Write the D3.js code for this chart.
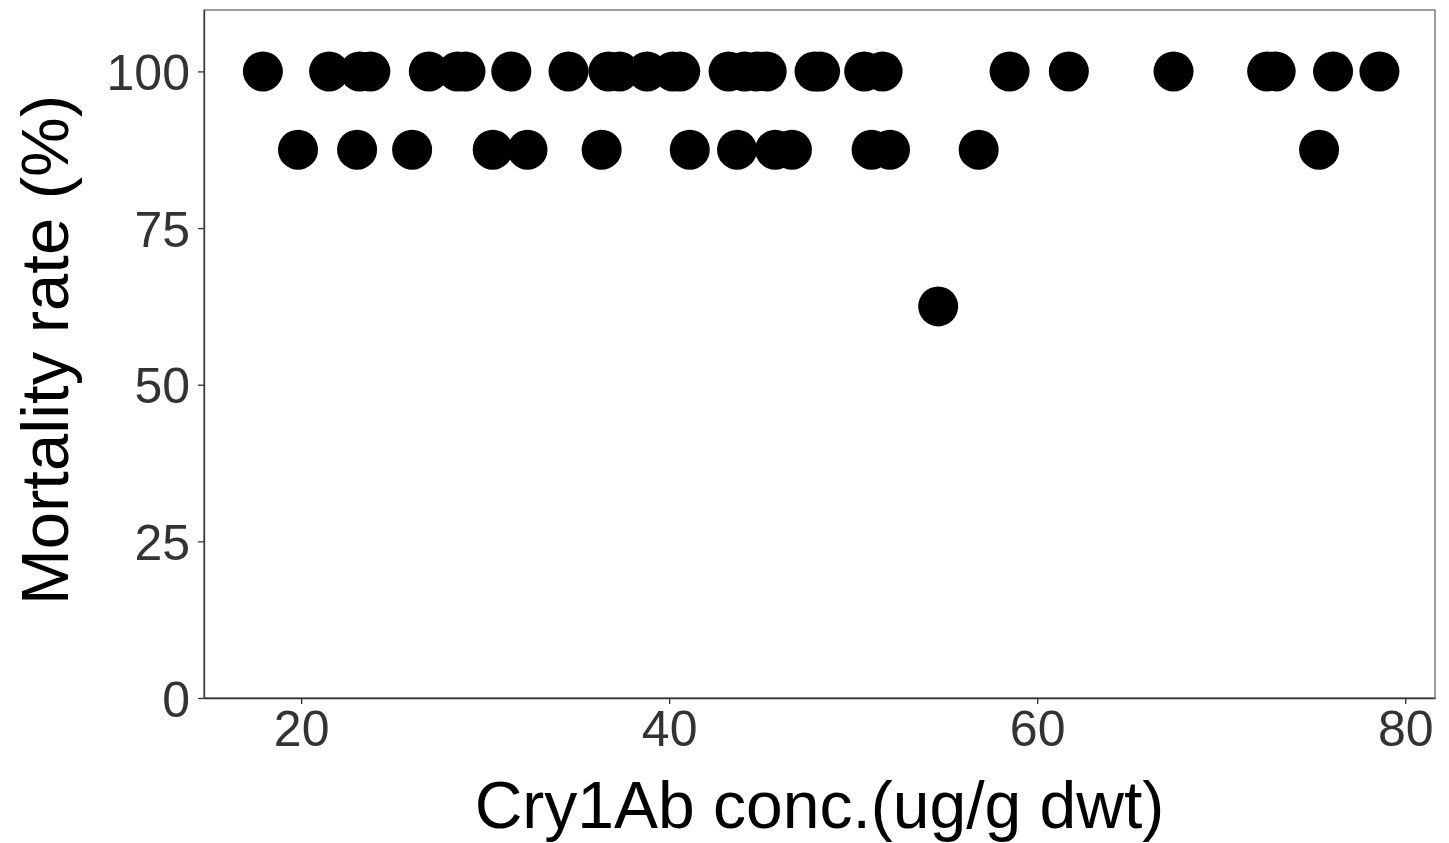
<!DOCTYPE html>
<html><head><meta charset="utf-8">
<script src="https://cdn.jsdelivr.net/npm/d3@7"></script>
<style>html,body{margin:0;padding:0;background:#fff;}svg{display:block;}</style>
</head><body>
<svg id="chart" width="1449" height="843"></svg>
<script>
// Data: Cry1Ab concentration (ug/g dwt) vs mortality rate (%)
const concAt100 = [17.92, 21.52, 23.18, 23.76, 26.94, 28.5, 28.93, 31.42, 34.53, 36.7, 37.3, 38.8, 40.2, 40.6, 43.23, 44.1, 44.77, 45.3, 47.9, 48.2, 50.6, 51.6, 58.5, 61.72, 67.41, 72.5, 72.96, 76.08, 78.6];
const concAt875 = [19.83, 23.04, 26.03, 30.41, 32.3, 36.33, 41.12, 43.69, 45.76, 46.67, 51.0, 52.0, 56.82, 75.32];
const concAt625 = [54.62];
const mortalityLevels = [100, 87.5, 62.5];
const xTicks = [20, 40, 60, 80];
const yTicks = [0, 25, 50, 75, 100];
const xTitle = "Cry1Ab conc.(ug/g dwt)";
const yTitle = "Mortality rate (%)";

const points = [];
[concAt100, concAt875, concAt625].forEach((arr, i) => arr.forEach(c => points.push({x: c, y: mortalityLevels[i]})));

const svg = d3.select("#chart");
const m = {left: 204, right: 1435, top: 10, bottom: 698};
const x = d3.scaleLinear().domain([14.72, 81.62]).range([m.left, m.right]);
const y = d3.scaleLinear().domain([0, 109.8]).range([m.bottom, m.top]);

// panel border
svg.append("rect").attr("x", m.left).attr("y", m.top)
  .attr("width", m.right - m.left).attr("height", m.bottom - m.top)
  .attr("fill", "none").attr("stroke", "#666").attr("stroke-width", 1.3);

const font = "Liberation Sans, Arial, sans-serif";

const xAxis = svg.append("g").attr("transform", `translate(0,${m.bottom})`)
  .call(d3.axisBottom(x).tickValues(xTicks).tickSizeInner(6).tickSizeOuter(0).tickPadding(6).tickFormat(d3.format("d")));
const yAxis = svg.append("g").attr("transform", `translate(${m.left},0)`)
  .call(d3.axisLeft(y).tickValues(yTicks).tickSizeInner(6).tickSizeOuter(0).tickPadding(8).tickFormat(d3.format("d")));
[xAxis, yAxis].forEach(g => {
  g.select(".domain").attr("stroke", "#333").attr("stroke-width", 1.3);
  g.selectAll(".tick line").attr("stroke", "#333").attr("stroke-width", 1.3);
  g.selectAll(".tick text").attr("fill", "#333").style("font-family", font).style("font-size", "50px");
});
yAxis.selectAll(".tick text").attr("dy", "0.36em");

svg.append("g").selectAll("circle").data(points).join("circle")
  .attr("cx", d => x(d.x)).attr("cy", d => y(d.y)).attr("r", 20).attr("fill", "#000");

svg.append("text").attr("x", (m.left + m.right) / 2).attr("y", 828)
  .attr("text-anchor", "middle").style("font-family", font).style("font-size", "66px").attr("fill", "#000")
  .text(xTitle);
svg.append("text").attr("transform", `translate(68,${(m.top + m.bottom) / 2 - 4}) rotate(-90)`)
  .attr("text-anchor", "middle").style("font-family", font).style("font-size", "67px").attr("fill", "#000")
  .text(yTitle);
</script>
</body></html>
